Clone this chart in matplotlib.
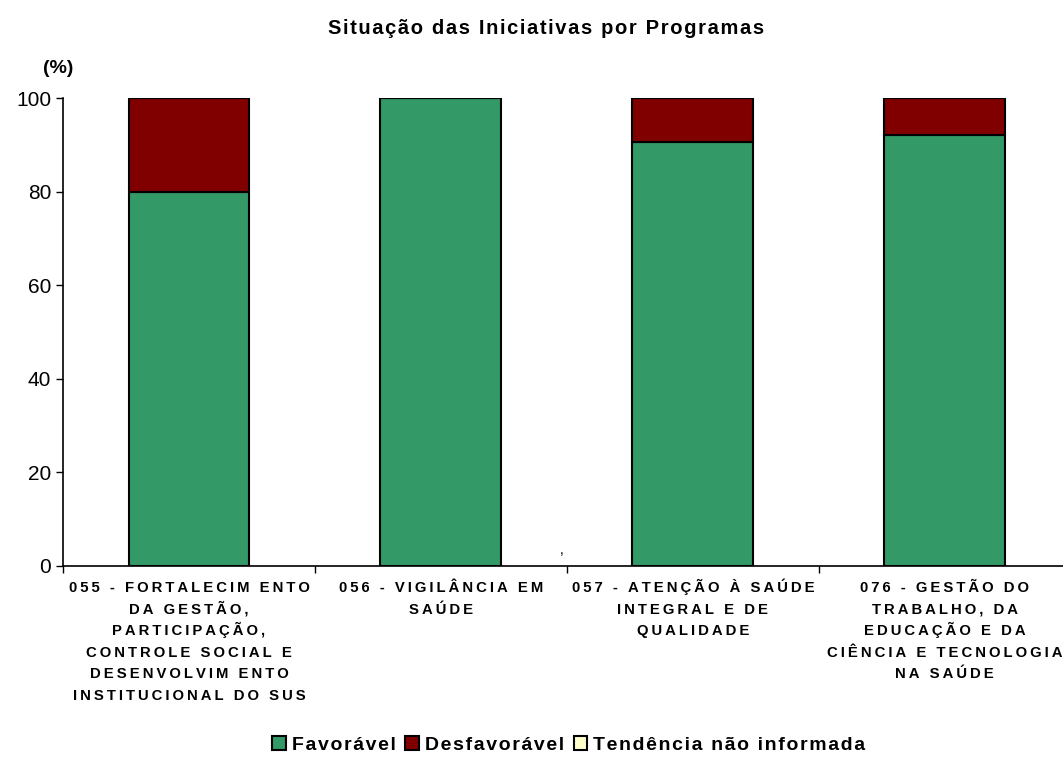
import numpy as np
import matplotlib
matplotlib.use('Agg')
import matplotlib.pyplot as plt

plt.rcParams['font.family'] = ['Liberation Sans', 'DejaVu Sans']

# data
programas = ['055 - FORTALECIM ENTO\nDA GESTÃO,\nPARTICIPAÇÃO,\nCONTROLE SOCIAL E\nDESENVOLVIM ENTO\nINSTITUCIONAL DO SUS',
             '056 - VIGILÂNCIA EM\nSAÚDE',
             '057 - ATENÇÃO À SAÚDE\nINTEGRAL E DE\nQUALIDADE',
             '076 - GESTÃO DO\nTRABALHO, DA\nEDUCAÇÃO E DA\nCIÊNCIA E TECNOLOGIA\nNA SAÚDE']
favoravel = [80.0, 100.0, 90.6, 92.2]
desfavoravel = [20.0, 0.0, 9.4, 7.8]
nao_informada = [0.0, 0.0, 0.0, 0.0]
series = ['Favorável', 'Desfavorável', 'Tendência não informada']

cor_fav = '#339966'
cor_desf = '#800000'
cor_ni = '#FFFFCC'


def espaco(s, sep):
    # loose letter spacing like the original excel export
    return sep.join(s)


fig = plt.figure(figsize=(10.63, 7.58), dpi=100)
ax = fig.add_axes([0.0593, 0.2533, 0.948, 0.6174])

x = np.arange(len(programas))
w = 0.48
ax.bar(x, favoravel, w, color=cor_fav, edgecolor='black', linewidth=1.5, label=espaco(series[0], '\u200a'))
ax.bar(x, desfavoravel, w, bottom=favoravel, color=cor_desf, edgecolor='black', linewidth=1.5,
       label=espaco(series[1], '\u200a'))
base = np.array(favoravel) + np.array(desfavoravel)
ax.bar(x, nao_informada, w, bottom=base, color=cor_ni, edgecolor='black', linewidth=1.5,
       label=espaco(series[2], '\u200a'))

ax.set_xlim(-0.5, len(programas) - 0.5)
ax.set_ylim(0, 100)
ax.set_yticks([0, 20, 40, 60, 80, 100])
ax.tick_params(axis='y', labelsize=15, length=5, width=1, direction='out')

# category labels centered, ticks at the boundaries
ax.set_xticks(np.arange(-0.5, len(programas) + 0.5, 1))
ax.set_xticklabels([])
ax.tick_params(axis='x', length=5, width=1, direction='out')
for i, lab in enumerate(programas):
    for k, linha in enumerate(lab.split('\n')):
        ax.text(i, -5.6 - 4.6 * k, espaco(linha, '\u2009'), ha='center', va='baseline',
                fontsize=10.7, fontweight='bold', clip_on=False)

for s in ['top', 'right']:
    ax.spines[s].set_visible(False)
ax.spines['left'].set_linewidth(1.2)
ax.spines['bottom'].set_linewidth(1.2)

ax.text(1.48, 3.4, ',', fontsize=10, ha='center', va='center')

fig.text(0.5135, 0.963, espaco('Situação das Iniciativas por Programas', '\u200a'), ha='center', va='center',
         fontsize=14.5, fontweight='bold')
fig.text(0.055, 0.91, '(%)', ha='center', va='center', fontsize=14, fontweight='bold')

fig.legend(loc='center', bbox_to_anchor=(0.535, 0.017), ncol=3, frameon=False,
           prop={'weight': 'bold', 'size': 14}, handlelength=0.7, handleheight=0.7,
           handletextpad=0.3, columnspacing=0.5, borderaxespad=0)

fig.savefig('out.png', dpi=100)
